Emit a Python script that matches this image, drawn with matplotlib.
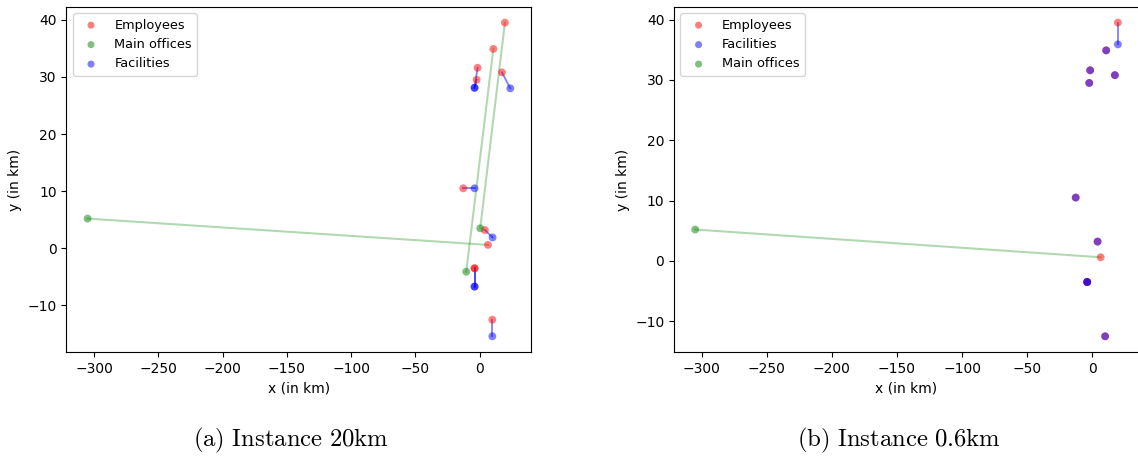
import matplotlib
matplotlib.use("Agg")
import matplotlib.pyplot as plt

plt.rcParams['mathtext.fontset'] = 'cm'

# employee homes (same for both instances)
emp_x = [19.7, 10.7, -1.6, -2.3, 17.4, -12.7, 4.1, 6.5, -3.9, -3.9, 9.9]
emp_y = [39.5, 34.9, 31.6, 29.5, 30.8, 10.5, 3.2, 0.6, -3.5, -3.5, -12.5]

# instance 20km: facility assigned to each employee (None = goes to main office)
fac20_x = [None, None, -3.9, -3.9, 23.9, -3.9, 10.1, None, -3.9, -3.9, 9.9]
fac20_y = [None, None, 28.1, 28.1, 28.0, 10.5, 1.9, None, -6.7, -6.7, -15.4]
office20_x = [0.5, -10.4, -305.0]
office20_y = [3.5, -4.1, 5.2]
office20_emp = [0, 1, 7]   # employee index linked to each main office

# instance 0.6km
fac06_x = [19.7, 10.7, -1.6, -2.3, 17.4, -12.7, 4.1, None, -3.9, -3.9, 9.9]
fac06_y = [35.9, 34.9, 31.6, 29.5, 30.8, 10.5, 3.2, None, -3.5, -3.5, -12.5]
office06_x = [-305.0]
office06_y = [5.2]
office06_emp = [7]

fig = plt.figure(figsize=(11.38, 4.57), dpi=100)
ax1 = fig.add_axes([0.0584, 0.2298, 0.4086, 0.755])
ax2 = fig.add_axes([0.5923, 0.2298, 0.4086, 0.755])


def draw(ax, fx, fy, ox, oy, oemp, order):
    for i, (x, y) in enumerate(zip(fx, fy)):
        if x is not None:
            ax.plot([x, emp_x[i]], [y, emp_y[i]], color='blue', alpha=0.5, lw=1.3, zorder=1)
    for x, y, e in zip(ox, oy, oemp):
        ax.plot([x, emp_x[e]], [y, emp_y[e]], color='green', alpha=0.3, lw=1.5, zorder=1)
    fxs = [x for x in fx if x is not None]
    fys = [y for y in fy if y is not None]
    pts = {
        'Employees': (emp_x, emp_y, 'red'),
        'Main offices': (ox, oy, 'green'),
        'Facilities': (fxs, fys, 'blue'),
    }
    for name in order:
        xs, ys, c = pts[name]
        ax.scatter(xs, ys, s=32, color=c, alpha=0.5, edgecolors='none', label=name, zorder=2)
    ax.set_xlabel('x (in km)')
    ax.set_ylabel('y (in km)')
    ax.legend(loc='upper left', fontsize=9.3, markerscale=0.9)


draw(ax1, fac20_x, fac20_y, office20_x, office20_y, office20_emp,
     ['Employees', 'Main offices', 'Facilities'])
draw(ax2, fac06_x, fac06_y, office06_x, office06_y, office06_emp,
     ['Employees', 'Facilities', 'Main offices'])

fig.text(0.256, 0.022, r'$\mathrm{(a)\ Instance\ 20km}$', ha='center', fontsize=17.8)
fig.text(0.79, 0.022, r'$\mathrm{(b)\ Instance\ 0.6km}$', ha='center', fontsize=17.8)

fig.savefig('out.png', dpi=100)
